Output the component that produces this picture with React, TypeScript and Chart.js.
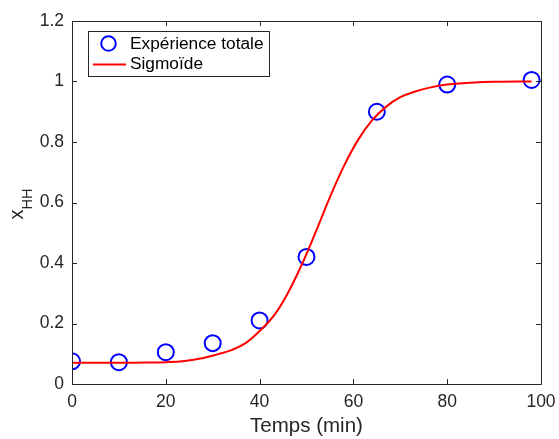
import React, { useEffect, useRef } from "react";
import { Chart, registerables } from "chart.js";

Chart.register(...registerables);

const expTimes = [0, 10, 20, 30, 40, 50, 65, 80, 98];
const expValues = [0.075, 0.072, 0.105, 0.135, 0.21, 0.42, 0.9, 0.99, 1.005];

const curveTimes = [0, 10, 16, 20, 24, 28, 31, 34, 37, 40, 43, 46, 49, 52, 55, 58, 61, 64, 67, 70, 73, 76, 80, 85, 90, 98];
const curveValues = [0.07, 0.07, 0.071, 0.072, 0.076, 0.086, 0.098, 0.112, 0.135, 0.175, 0.225, 0.3, 0.395, 0.504, 0.618, 0.721, 0.807, 0.872, 0.917, 0.948, 0.966, 0.979, 0.99, 0.996, 0.999, 1.0];

const xTicks = [0, 20, 40, 60, 80, 100];
const yTicks = [0, 0.2, 0.4, 0.6, 0.8, 1, 1.2];

const legendLabels = ["Expérience totale", "Sigmoïde"];
const xTitle = "Temps (min)";
const yTitleMain = "x";
const yTitleSub = "HH";

const FONT = "'Liberation Sans', Arial, Helvetica, sans-serif";
const AXIS = "#262626";

const boxPlugin = {
  id: "boxPlugin",
  afterDraw(chart: any) {
    const { ctx, chartArea } = chart;
    const { left, right, top, bottom } = chartArea;
    const xs = chart.scales.x;
    const ys = chart.scales.y;
    ctx.save();
    ctx.strokeStyle = AXIS;
    ctx.lineWidth = 1;
    ctx.beginPath();
    ctx.rect(Math.round(left) + 0.5, Math.round(top) + 0.5, Math.round(right - left), Math.round(bottom - top));
    ctx.stroke();
    const tl = 5;
    ctx.beginPath();
    xTicks.forEach((v) => {
      const px = Math.round(xs.getPixelForValue(v)) + 0.5;
      ctx.moveTo(px, bottom);
      ctx.lineTo(px, bottom - tl);
      ctx.moveTo(px, top);
      ctx.lineTo(px, top + tl);
    });
    yTicks.forEach((v) => {
      const py = Math.round(ys.getPixelForValue(v)) + 0.5;
      ctx.moveTo(left, py);
      ctx.lineTo(left + tl, py);
      ctx.moveTo(right, py);
      ctx.lineTo(right - tl, py);
    });
    ctx.stroke();

    // Y title with subscript
    ctx.fillStyle = AXIS;
    ctx.translate(23, 204);
    ctx.rotate(-Math.PI / 2);
    ctx.textBaseline = "alphabetic";
    ctx.font = `20px ${FONT}`;
    const wMain = ctx.measureText(yTitleMain).width;
    ctx.font = `14.5px ${FONT}`;
    const wSub = ctx.measureText(yTitleSub).width;
    const total = wMain + wSub;
    ctx.font = `20px ${FONT}`;
    ctx.textAlign = "left";
    ctx.fillText(yTitleMain, -total / 2, 0);
    ctx.font = `14.5px ${FONT}`;
    ctx.fillText(yTitleSub, -total / 2 + wMain, 9);
    ctx.restore();

    // Legend
    ctx.save();
    const lx = 88.5, ly = 31.5, lw = 181, lh = 45;
    ctx.fillStyle = "#ffffff";
    ctx.fillRect(lx, ly, lw, lh);
    ctx.strokeStyle = AXIS;
    ctx.lineWidth = 1;
    ctx.strokeRect(lx, ly, lw, lh);
    ctx.strokeStyle = "#0000ff";
    ctx.lineWidth = 2;
    ctx.beginPath();
    ctx.arc(108.5, 43.5, 7.3, 0, Math.PI * 2);
    ctx.stroke();
    ctx.strokeStyle = "#ff0000";
    ctx.beginPath();
    ctx.moveTo(93, 64.5);
    ctx.lineTo(126, 64.5);
    ctx.stroke();
    ctx.fillStyle = "#000000";
    ctx.font = `17.3px ${FONT}`;
    ctx.textBaseline = "middle";
    ctx.textAlign = "left";
    ctx.fillText(legendLabels[0], 130, 44);
    ctx.fillText(legendLabels[1], 130, 64);
    ctx.restore();
  },
};

export default function App() {
  const ref = useRef<HTMLCanvasElement | null>(null);
  useEffect(() => {
    document.body.style.margin = "0";
    const canvas = ref.current;
    if (!canvas) return;
    const chart = new Chart(canvas, {
      type: "scatter",
      data: {
        datasets: [
          {
            label: legendLabels[1],
            data: curveTimes.map((t, i) => ({ x: t, y: curveValues[i] })),
            showLine: true,
            borderColor: "#ff0000",
            borderWidth: 2,
            pointRadius: 0,
            tension: 0.4,
            order: 0,
          } as any,
          {
            label: legendLabels[0],
            data: expTimes.map((t, i) => ({ x: t, y: expValues[i] })),
            showLine: false,
            borderColor: "#0000ff",
            backgroundColor: "rgba(0,0,0,0)",
            borderWidth: 2,
            pointRadius: 8,
            order: 1,
          } as any,
        ],
      },
      options: {
        animation: false,
        responsive: false,
        maintainAspectRatio: false,
        layout: { padding: { top: 21, right: 18, left: 0, bottom: 0 } },
        plugins: {
          legend: { display: false },
          tooltip: { enabled: false },
        },
        scales: {
          x: {
            type: "linear",
            min: 0,
            max: 100,
            afterBuildTicks: (s: any) => {
              s.ticks = xTicks.map((v) => ({ value: v }));
            },
            afterFit: (s: any) => {
              s.height = 55;
              s.paddingLeft = 0;
              s.paddingRight = 0;
            },
            grid: { display: false, drawTicks: false },
            border: { display: false },
            ticks: {
              color: AXIS,
              font: { family: FONT, size: 17.5 },
              padding: 8,
              maxRotation: 0,
              callback: (v: any) => String(v),
            },
            title: {
              display: true,
              text: xTitle,
              color: AXIS,
              font: { family: FONT, size: 20.5 },
              padding: { top: 0, bottom: 0 },
            },
          },
          y: {
            type: "linear",
            min: 0,
            max: 1.2,
            afterBuildTicks: (s: any) => {
              s.ticks = yTicks.map((v) => ({ value: v }));
            },
            afterFit: (s: any) => {
              s.width = 72;
              s.paddingTop = 0;
              s.paddingBottom = 0;
            },
            grid: { display: false, drawTicks: false },
            border: { display: false },
            ticks: {
              color: AXIS,
              font: { family: FONT, size: 17.5 },
              padding: 8,
              callback: (v: any) => String(Math.round(v * 10) / 10),
            },
          },
        },
      } as any,
      plugins: [boxPlugin],
    });
    return () => chart.destroy();
  }, []);
  return (
    <div style={{ width: 559, height: 439 }}>
      <canvas ref={ref} width={559} height={439} style={{ display: "block" }} />
    </div>
  );
}
